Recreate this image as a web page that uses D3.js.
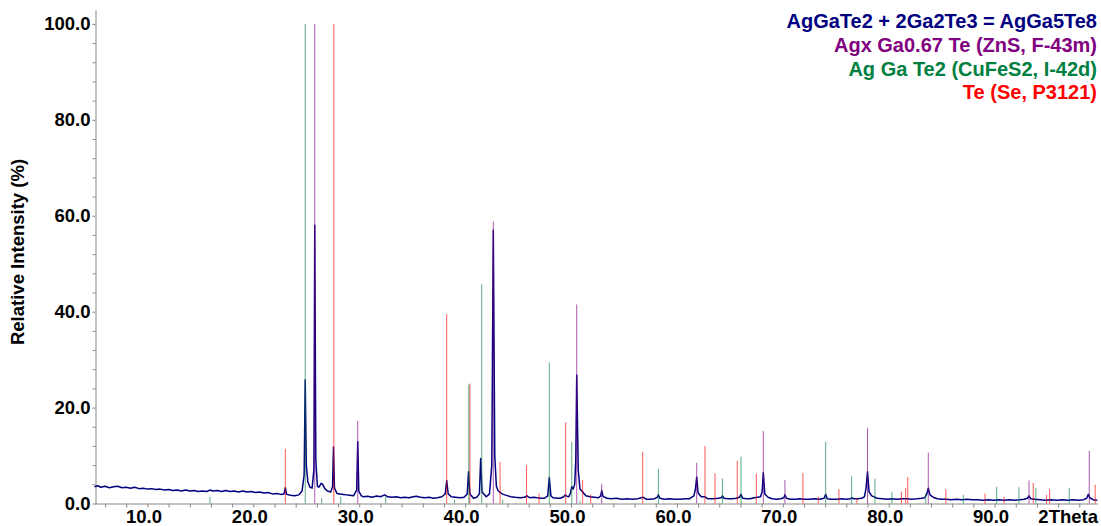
<!DOCTYPE html>
<html>
<head>
<meta charset="utf-8">
<script src="https://cdn.jsdelivr.net/npm/d3@7"></script>
<style>
body { margin: 0; background: #fff; }
svg text { font-family: Arial, "Liberation Sans", sans-serif; font-weight: bold; }
</style>
</head>
<body>
<div id="chart"></div>
<script>

//////////////////// data: 2theta (deg) vs relative intensity (%) ////////////////////

// measured pattern
var observed = [
  [5.0,3.5],[5.3,3.7],[5.6,3.4],[6.0,3.6],[6.4,3.3],[6.8,3.5],[7.2,3.6],[7.6,3.3],[8.0,3.4],[8.4,3.2],
  [8.8,3.4],[9.2,3.1],[9.6,3.2],[10.0,3.0],[10.4,3.1],[10.8,2.9],[11.2,3.0],[11.6,2.8],[12.0,2.9],[12.4,2.7],
  [12.8,2.8],[13.2,2.6],[13.6,2.8],[14.0,2.6],[14.4,2.7],[14.8,2.5],[15.2,2.6],[15.6,2.5],[15.9,2.8],[16.2,2.6],
  [16.6,2.7],[17.0,2.5],[17.4,2.7],[17.8,2.5],[18.2,2.6],[18.6,2.4],[19.0,2.6],[19.4,2.4],[19.8,2.5],[20.2,2.3],
  [20.6,2.4],[21.0,2.2],[21.4,2.3],[21.8,2.0],[22.2,2.1],[22.6,1.9],[22.9,2.0],[23.02,3.3],[23.15,1.9],[23.5,1.7],
  [23.9,1.6],[24.3,1.8],[24.6,2.6],[24.8,6.0],[24.9,25.8],[25.0,8.0],[25.15,4.5],[25.35,3.4],[25.55,3.2],[25.72,7.0],
  [25.8,58.0],[25.9,9.0],[26.05,3.6],[26.2,3.4],[26.4,4.2],[26.55,4.0],[26.75,3.1],[27.0,2.6],[27.3,2.4],[27.48,3.5],
  [27.57,11.8],[27.66,3.2],[27.9,2.1],[28.2,2.0],[28.5,1.9],[28.8,1.8],[29.1,1.7],[29.45,1.6],[29.76,2.8],[29.86,12.9],
  [29.96,2.6],[30.2,1.6],[30.4,1.4],[30.8,1.5],[31.2,1.3],[31.65,1.55],[32.0,1.4],[32.4,1.8],[32.7,1.4],[33.1,1.3],
  [33.5,1.4],[33.9,1.2],[34.3,1.3],[34.7,1.2],[35.1,1.4],[35.4,1.5],[35.8,1.3],[36.2,1.2],[36.6,1.3],[37.0,1.1],
  [37.4,1.2],[37.8,1.4],[38.12,2.0],[38.26,4.8],[38.4,2.0],[38.7,1.4],[39.1,1.3],[39.5,1.2],[39.9,1.3],[40.2,2.0],
  [40.32,6.6],[40.45,2.0],[40.8,1.1],[41.1,1.3],[41.35,2.0],[41.47,9.4],[41.6,2.4],[42.0,1.4],[42.3,2.0],[42.52,8.0],
  [42.66,57.0],[42.8,10.0],[42.95,3.6],[43.1,2.7],[43.35,2.2],[43.6,1.9],[43.9,1.7],[44.3,1.4],[44.7,1.3],[45.2,1.2],
  [45.6,1.3],[45.85,1.6],[46.1,1.2],[46.5,1.3],[46.8,1.2],[47.2,1.1],[47.5,1.1],[47.8,1.6],[47.95,5.4],[48.1,1.6],
  [48.3,1.2],[48.7,1.1],[49.0,1.1],[49.3,1.4],[49.45,1.8],[49.6,1.5],[49.8,1.4],[49.95,2.2],[50.07,3.5],[50.2,3.0],
  [50.35,4.0],[50.45,9.0],[50.54,26.8],[50.68,7.0],[50.85,3.0],[51.1,2.4],[51.4,1.6],[51.8,1.4],[52.2,1.3],[52.6,1.2],
  [52.8,1.6],[52.9,2.7],[53.02,1.5],[53.4,1.1],[53.8,1.0],[54.3,1.1],[54.8,0.9],[55.3,1.0],[55.8,0.9],[56.3,1.0],
  [56.8,1.3],[57.1,0.9],[57.5,0.9],[57.9,1.0],[58.15,1.3],[58.25,1.8],[58.4,1.1],[58.8,0.9],[59.3,1.0],[59.8,0.9],
  [60.3,0.9],[60.8,1.0],[61.2,1.0],[61.6,1.6],[61.75,3.0],[61.87,5.5],[62.0,2.2],[62.3,1.4],[62.65,1.4],[62.9,1.0],
  [63.4,1.0],[63.9,1.1],[64.2,1.2],[64.3,1.6],[64.45,1.1],[64.8,1.0],[65.2,1.0],[65.6,1.1],[65.9,1.3],[66.05,1.9],
  [66.2,1.1],[66.6,1.0],[66.9,1.0],[67.3,1.2],[67.6,1.3],[67.9,1.4],[68.05,2.5],[68.16,6.4],[68.3,2.0],[68.6,1.3],
  [69.0,1.0],[69.4,0.9],[69.8,1.0],[70.1,1.2],[70.2,1.8],[70.35,1.1],[70.7,0.9],[71.2,0.9],[71.6,1.0],[72.0,0.9],
  [72.5,0.9],[73.0,1.0],[73.5,0.9],[73.9,1.1],[74.05,1.9],[74.2,1.0],[74.6,0.9],[75.1,0.9],[75.6,1.0],[76.0,0.9],
  [76.4,1.0],[76.5,1.2],[76.7,1.0],[77.1,1.0],[77.45,1.1],[77.7,1.4],[77.85,3.0],[78.0,6.6],[78.15,2.4],[78.4,1.6],
  [78.9,1.1],[79.4,1.0],[79.9,0.9],[80.3,1.0],[80.8,0.9],[81.3,1.0],[81.7,1.0],[82.2,0.9],[82.7,1.0],[83.1,1.1],
  [83.4,1.2],[83.6,2.0],[83.74,3.2],[83.9,1.8],[84.2,1.3],[84.6,1.0],[85.0,0.9],[85.45,0.9],[85.9,0.8],[86.4,0.9],
  [86.9,0.8],[87.4,0.9],[87.9,0.8],[88.4,0.8],[88.9,0.7],[89.4,0.8],[89.9,0.7],[90.4,0.8],[90.9,0.7],[91.4,0.8],
  [91.9,0.7],[92.4,0.8],[92.8,0.9],[93.1,1.1],[93.25,1.6],[93.4,1.0],[93.8,0.9],[94.3,0.8],[94.8,0.7],[95.3,0.8],
  [95.9,0.7],[96.4,0.8],[96.9,0.7],[97.4,0.8],[97.9,0.7],[98.4,0.8],[98.7,1.1],[98.85,1.9],[99.0,1.2],[99.3,0.8],
  [99.7,0.7]
];

// reference patterns (stick lines)
var agxGaTe_ZnS = [
  [25.8,100],[29.86,17.2],[42.66,58.8],[50.54,41.5],[52.9,4.1],[61.87,8.5],[68.16,15.1],[70.2,4.9],
  [78.0,15.8],[83.74,10.6],[93.25,4.8],[98.94,11.0]
];
var agGaTe2_CuFeS2 = [
  [15.9,1.4],[24.9,100],[26.45,1.1],[28.25,1.4],[32.5,1.4],[39.0,0.8],[40.35,24.8],[41.57,45.7],
  [43.55,0.8],[47.95,29.4],[50.07,12.8],[50.85,0.6],[58.25,7.2],[64.3,5.2],[66.05,9.8],[74.05,12.9],
  [76.5,5.7],[78.7,5.2],[80.3,2.4],[83.5,2.1],[87.05,1.8],[90.2,3.5],[92.3,3.4],[93.9,3.2],[97.05,3.2]
];
var te_Se = [
  [23.02,11.4],[27.6,100],[38.26,39.5],[40.45,25.0],[43.3,8.7],[45.8,8.0],[46.98,2.1],[49.5,16.9],
  [51.1,4.9],[51.86,1.9],[56.77,10.8],[62.65,12.0],[63.6,6.3],[65.7,8.9],[67.5,6.2],[71.9,6.4],
  [73.35,1.4],[75.3,3.0],[77.0,1.0],[81.2,2.5],[81.6,3.2],[81.8,5.5],[85.4,3.0],[89.1,2.1],
  [90.9,1.4],[93.65,4.3],[94.9,1.8],[95.2,3.0],[99.5,3.9]
];

var legendNames = ["AgGaTe2 + 2Ga2Te3 = AgGa5Te8", "Agx Ga0.67 Te (ZnS, F-43m)", "Ag Ga Te2 (CuFeS2, I-42d)", "Te (Se, P3121)"];
var legendColors = ["#000080", "#800080", "#008040", "#ff0000"];

var yTickValues = d3.range(0, 101, 4);
var xTickValues = d3.range(6, 100, 2);

//////////////////// svg ////////////////////

var svgWidth = 1101;
var svgHeight = 526;

var svg = d3.select("#chart").append("svg")
  .attr("width", svgWidth)
  .attr("height", svgHeight);

var xScale = d3.scaleLinear().domain([5, 99.7]).range([94.5, 1097.3]);
var yScale = d3.scaleLinear().domain([0, 102.9]).range([503.5, 10]);

//////////////////// axes ////////////////////

var yAxis = d3.axisLeft(yScale)
  .tickValues(yTickValues)
  .tickSize(3)
  .tickSizeOuter(0)
  .tickFormat(d => d % 20 == 0 ? d.toFixed(1) : "");

var yg = svg.append("g")
  .attr("transform", "translate(95.5,0)")
  .call(yAxis);
yg.selectAll("text").attr("x", -5).attr("font-size", 18.5).attr("fill", "#000");

var xAxis = d3.axisBottom(xScale)
  .tickValues(xTickValues)
  .tickSize(4)
  .tickSizeOuter(0)
  .tickFormat(d => d % 10 == 0 ? d.toFixed(1) : "");

var xg = svg.append("g")
  .attr("transform", "translate(0,503.5)")
  .call(xAxis);
xg.selectAll("text").attr("y", 19.5).attr("dy", null).attr("dx", -4)
  .attr("font-size", 18.5).attr("fill", "#000");

svg.selectAll(".domain, .tick line").attr("stroke", "#888");

svg.append("text")
  .attr("x", 1098).attr("y", 523)
  .attr("text-anchor", "end")
  .attr("font-size", 18.5)
  .text("2Theta");

svg.append("text")
  .attr("transform", "translate(24,252) rotate(-90)")
  .attr("text-anchor", "middle")
  .attr("font-size", 18.5)
  .text("Relative Intensity (%)");

//////////////////// measured profile ////////////////////

var line = d3.line()
  .x(d => xScale(d[0]))
  .y(d => yScale(d[1]));

svg.append("path")
  .datum(observed)
  .attr("d", line)
  .attr("fill", "none")
  .attr("stroke", "#000080")
  .attr("stroke-width", 1.5)
  .attr("stroke-linejoin", "round");

//////////////////// stick patterns ////////////////////

function drawSticks(data, color) {
  svg.append("g").selectAll("line")
    .data(data)
    .enter()
    .append("line")
    .attr("x1", d => xScale(d[0]))
    .attr("x2", d => xScale(d[0]))
    .attr("y1", yScale(0))
    .attr("y2", d => yScale(d[1]))
    .attr("stroke", color)
    .attr("stroke-width", 1)
    .attr("stroke-opacity", 0.65);
}

drawSticks(te_Se, legendColors[3]);
drawSticks(agGaTe2_CuFeS2, legendColors[2]);
drawSticks(agxGaTe_ZnS, legendColors[1]);

//////////////////// legend ////////////////////

svg.selectAll(".legend")
  .data(legendNames)
  .enter()
  .append("text")
  .attr("class", "legend")
  .attr("x", 1097)
  .attr("y", (d, i) => 28 + i * 23.8)
  .attr("text-anchor", "end")
  .attr("font-size", 20)
  .attr("fill", (d, i) => legendColors[i])
  .text(d => d);

</script>
</body>
</html>
